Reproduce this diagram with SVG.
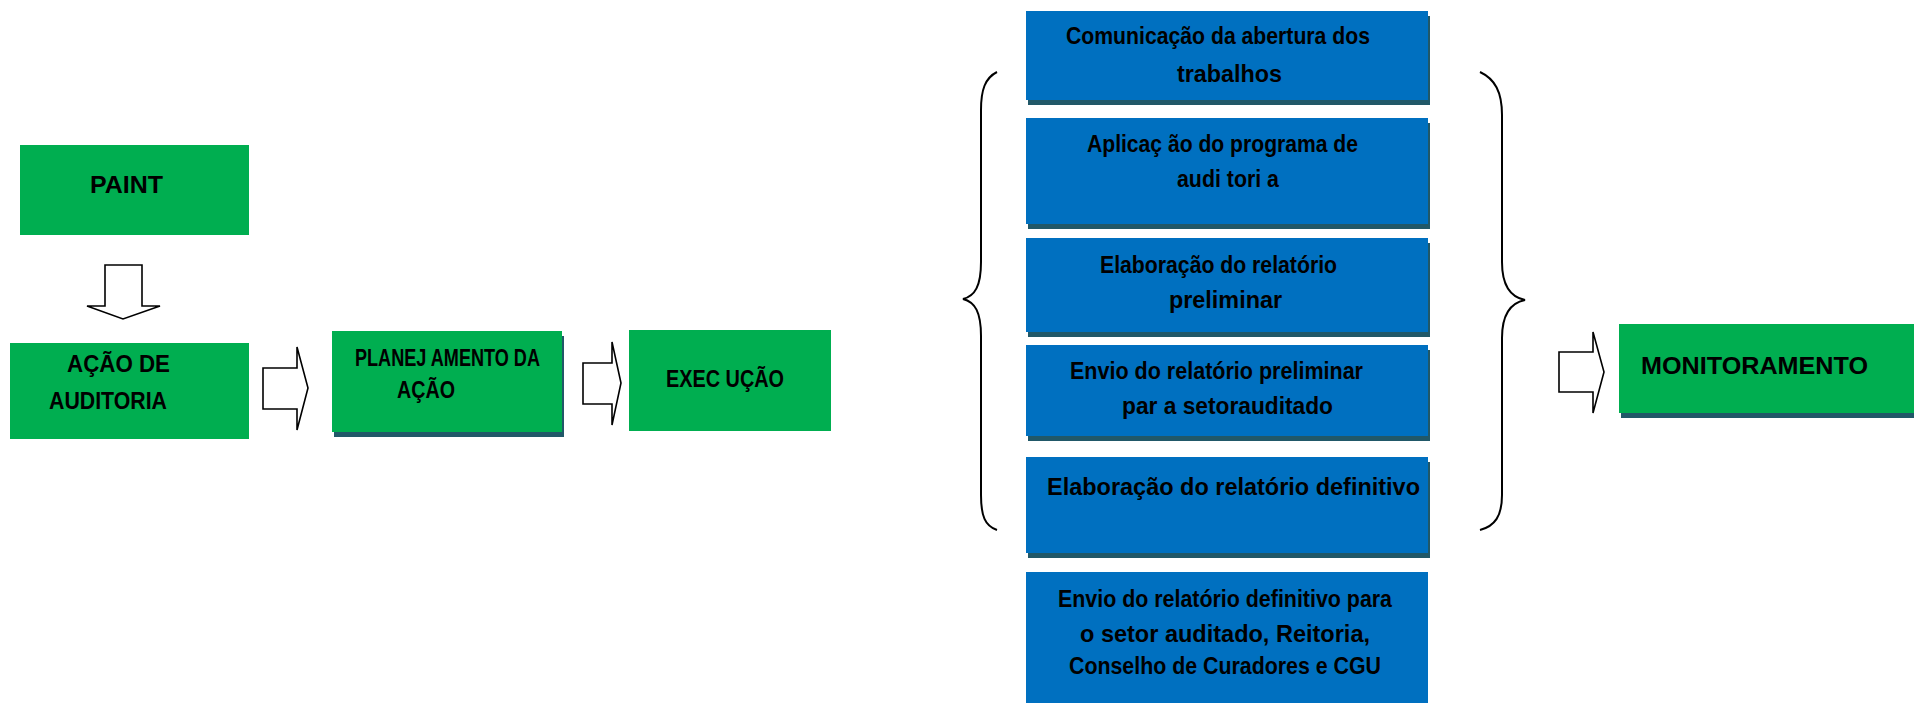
<svg xmlns="http://www.w3.org/2000/svg" width="1914" height="703" viewBox="0 0 1914 703">
<style>
.g{fill:#00AE50}
.b{fill:#0070C0}
.sh{fill:#215868}
.t{font-family:"Liberation Sans",Arial,sans-serif;font-weight:bold;font-size:24px;fill:#000}
.arr{fill:#fff;stroke:#000;stroke-width:1.6;stroke-linejoin:miter}
.br{fill:none;stroke:#000;stroke-width:2}
</style>
<rect width="1914" height="703" fill="#fff"/>
<g id="paint">
<rect class="g" x="20" y="145" width="229" height="90"/>
<text class="t" x="90" y="193" textLength="73" lengthAdjust="spacingAndGlyphs">PAINT</text>
</g>
<g id="acao-auditoria">
<rect class="g" x="10" y="343" width="239" height="96"/>
<text class="t" x="67" y="372" textLength="103" lengthAdjust="spacingAndGlyphs">AÇÃO DE</text>
<text class="t" x="49" y="409" textLength="118" lengthAdjust="spacingAndGlyphs">AUDITORIA</text>
</g>
<g id="planejamento">
<rect class="sh" x="334" y="336" width="230" height="101"/>
<rect class="g" x="332" y="331" width="230" height="101"/>
<text class="t" x="355" y="366" textLength="185" lengthAdjust="spacingAndGlyphs">PLANEJ AMENTO DA</text>
<text class="t" x="397" y="398" textLength="58" lengthAdjust="spacingAndGlyphs">AÇÃO</text>
</g>
<g id="execucao">
<rect class="g" x="629" y="330" width="202" height="101"/>
<text class="t" x="666" y="387" textLength="118" lengthAdjust="spacingAndGlyphs">EXEC UÇÃO</text>
</g>
<g id="comunicacao">
<rect class="sh" x="1028" y="16" width="402" height="89"/>
<rect class="b" x="1026" y="11" width="402" height="89"/>
<text class="t" x="1066" y="44" textLength="304" lengthAdjust="spacingAndGlyphs">Comunicação da abertura dos</text>
<text class="t" x="1177" y="82" textLength="105" lengthAdjust="spacingAndGlyphs">trabalhos</text>
</g>
<g id="aplicacao">
<rect class="sh" x="1028" y="123" width="402" height="106"/>
<rect class="b" x="1026" y="118" width="402" height="106"/>
<text class="t" x="1087" y="152" textLength="271" lengthAdjust="spacingAndGlyphs">Aplicaç ão do programa de</text>
<text class="t" x="1177" y="187" textLength="102" lengthAdjust="spacingAndGlyphs">audi tori a</text>
</g>
<g id="elaboracao-preliminar">
<rect class="sh" x="1028" y="243" width="402" height="94"/>
<rect class="b" x="1026" y="238" width="402" height="94"/>
<text class="t" x="1100" y="273" textLength="237" lengthAdjust="spacingAndGlyphs">Elaboração do relatório</text>
<text class="t" x="1169" y="308" textLength="113" lengthAdjust="spacingAndGlyphs">preliminar</text>
</g>
<g id="envio-preliminar">
<rect class="sh" x="1028" y="350" width="402" height="91"/>
<rect class="b" x="1026" y="345" width="402" height="91"/>
<text class="t" x="1070" y="379" textLength="293" lengthAdjust="spacingAndGlyphs">Envio do relatório preliminar</text>
<text class="t" x="1122" y="414" textLength="211" lengthAdjust="spacingAndGlyphs">par a setorauditado</text>
</g>
<g id="elaboracao-definitivo">
<rect class="sh" x="1028" y="462" width="402" height="96"/>
<rect class="b" x="1026" y="457" width="402" height="96"/>
<text class="t" x="1047" y="495" textLength="373" lengthAdjust="spacingAndGlyphs">Elaboração do relatório definitivo</text>
</g>
<g id="envio-definitivo">
<rect class="b" x="1026" y="572" width="402" height="140"/>
<text class="t" x="1058" y="607" textLength="334" lengthAdjust="spacingAndGlyphs">Envio do relatório definitivo para</text>
<text class="t" x="1080" y="642" textLength="290" lengthAdjust="spacingAndGlyphs">o setor auditado, Reitoria,</text>
<text class="t" x="1069" y="674" textLength="312" lengthAdjust="spacingAndGlyphs">Conselho de Curadores e CGU</text>
</g>
<g id="monitoramento">
<rect class="sh" x="1621" y="329" width="300" height="89"/>
<rect class="g" x="1619" y="324" width="300" height="89"/>
<text class="t" x="1641" y="374" textLength="227" lengthAdjust="spacingAndGlyphs">MONITORAMENTO</text>
</g>
<g id="connectors">
<polygon class="arr" points="105,265 142,265 142,306 160,306 123,319 87,306 105,306"/>
<polygon class="arr" points="263,368 297,368 297,347 308,388 297,430 297,409 263,409"/>
<polygon class="arr" points="583,363 612,363 612,342 621,383 612,425 612,404 583,404"/>
<polygon class="arr" points="1559,352 1593,352 1593,332 1604,372 1593,413 1593,392 1559,392"/>
<path class="br" d="M997,72 C985,78 981,90 981,110 L981,262 C981,286 975,296 963,299 C975,302 981,312 981,336 L981,495 C981,516 985,526 997,530"/>
<path class="br" d="M1480,72 C1495,79 1502,92 1502,115 L1502,262 C1502,285 1510,297 1525,300 C1510,303 1502,315 1502,338 L1502,495 C1502,516 1495,526 1480,530"/>
</g>
</svg>
